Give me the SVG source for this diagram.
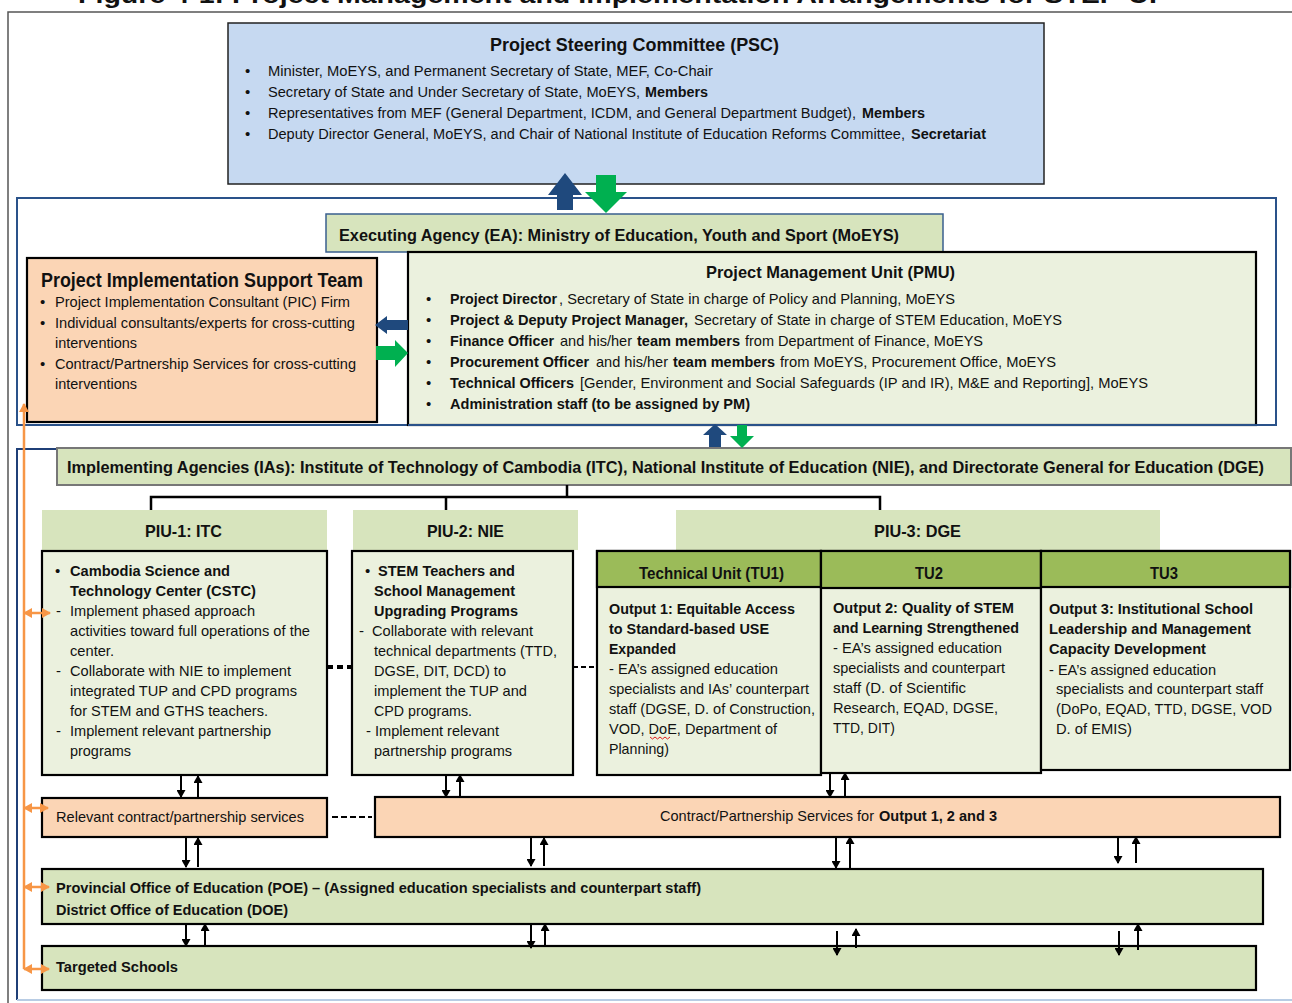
<svg xmlns="http://www.w3.org/2000/svg" width="1292" height="1003" viewBox="0 0 1292 1003">
<defs>
<style>
text{font-family:'Liberation Sans Narrow','Arial Narrow','Liberation Sans',Arial,sans-serif;fill:#111;font-size:15px}
.b{font-weight:bold}
.h{font-weight:bold;font-size:17px}
.ps{font-size:14px}
.lg{fill:#d7e4bd}
.pg{fill:#ebf1de}
.or{fill:#fbd5b5}
.bx{stroke:#000;stroke-width:2.2}
.ar{stroke:#000;stroke-width:2;fill:none;marker-end:url(#ah)}
.og{stroke:#f79646;stroke-width:2.5;fill:none}
.od{stroke:#f79646;stroke-width:2.5;fill:none;marker-start:url(#oh);marker-end:url(#oh)}
.blue{fill:#1f497d}
.green{fill:#00b050}
</style>
<marker id="ah" markerUnits="userSpaceOnUse" markerWidth="8" markerHeight="9" refX="7" refY="4.5" orient="auto"><path d="M0,0 L8,4.5 L0,9 z" fill="#000"/></marker>
<marker id="oh" markerUnits="userSpaceOnUse" markerWidth="9" markerHeight="10" refX="8" refY="5" orient="auto-start-reverse"><path d="M0,0 L9,5 L0,10 z" fill="#f79646"/></marker>
</defs>
<rect width="1292" height="1003" fill="#fff"/>
<text class="b" x="78" y="3" style="font-family:'Liberation Sans',Arial,sans-serif;font-size:24px" textLength="1090" lengthAdjust="spacingAndGlyphs">Figure 4-1: Project Management and Implementation Arrangements for STEP-UP</text>
<path d="M8,1003 V12 H1292" stroke="#555" stroke-width="1.5" fill="none"/>

<g id="psc">
<rect x="228" y="23" width="816" height="161" fill="#c6d9f1" stroke="#222" stroke-width="1.5"/>
<text class="b" x="490" y="51" style="font-size:19px" textLength="289" lengthAdjust="spacingAndGlyphs">Project Steering Committee (PSC)</text>
<text x="245" y="76">•</text><text x="245" y="97">•</text><text x="245" y="118">•</text><text x="245" y="139">•</text>
<text class="ps" x="268" y="76" textLength="445" lengthAdjust="spacingAndGlyphs">Minister, MoEYS, and Permanent Secretary of State, MEF, Co-Chair</text>
<text class="ps" x="268" y="97" textLength="372" lengthAdjust="spacingAndGlyphs">Secretary of State and Under Secretary of State, MoEYS,</text>
<text class="b ps" x="645" y="97" textLength="63" lengthAdjust="spacingAndGlyphs">Members</text>
<text class="ps" x="268" y="118" textLength="588" lengthAdjust="spacingAndGlyphs">Representatives from MEF (General Department, ICDM, and General Department Budget),</text>
<text class="b ps" x="862" y="118" textLength="63" lengthAdjust="spacingAndGlyphs">Members</text>
<text class="ps" x="268" y="139" textLength="637" lengthAdjust="spacingAndGlyphs">Deputy Director General, MoEYS, and Chair of National Institute of Education Reforms Committee,</text>
<text class="b ps" x="911" y="139" textLength="75" lengthAdjust="spacingAndGlyphs">Secretariat</text>
</g>

<rect x="17" y="198" width="1259" height="227" fill="none" stroke="#2a528a" stroke-width="2"/>

<g id="ea">
<rect x="326" y="214" width="617" height="38" class="lg" stroke="#3a5f8f" stroke-width="1.5"/>
<text class="h" x="339" y="241" textLength="560" lengthAdjust="spacingAndGlyphs">Executing Agency (EA): Ministry of Education, Youth and Sport (MoEYS)</text>
</g>

<g id="pist">
<rect x="27" y="258" width="350" height="164" class="or bx"/>
<text class="b" x="41" y="287" style="font-size:21px" textLength="322" lengthAdjust="spacingAndGlyphs">Project Implementation Support Team</text>
<text x="40" y="307">•</text><text x="40" y="328">•</text><text x="40" y="369">•</text>
<text x="55" y="307" textLength="295" lengthAdjust="spacingAndGlyphs">Project Implementation Consultant (PIC) Firm</text>
<text x="55" y="328" textLength="300" lengthAdjust="spacingAndGlyphs">Individual consultants/experts for cross-cutting</text>
<text x="55" y="348" textLength="82" lengthAdjust="spacingAndGlyphs">interventions</text>
<text x="55" y="369" textLength="301" lengthAdjust="spacingAndGlyphs">Contract/Partnership Services for cross-cutting</text>
<text x="55" y="389" textLength="82" lengthAdjust="spacingAndGlyphs">interventions</text>
</g>

<g id="pmu">
<rect x="408" y="252" width="848" height="173" class="pg bx"/>
<text class="h" x="706" y="278" textLength="249" lengthAdjust="spacingAndGlyphs">Project Management Unit (PMU)</text>
<text x="426" y="304">•</text><text x="426" y="325">•</text><text x="426" y="346">•</text><text x="426" y="367">•</text><text x="426" y="388">•</text><text x="426" y="409">•</text>
<text class="b" x="450" y="304" textLength="107" lengthAdjust="spacingAndGlyphs">Project Director</text>
<text x="559" y="304" textLength="396" lengthAdjust="spacingAndGlyphs">, Secretary of State in charge of Policy and Planning, MoEYS</text>
<text class="b" x="450" y="325" textLength="238" lengthAdjust="spacingAndGlyphs">Project &amp; Deputy Project Manager,</text>
<text x="694" y="325" textLength="368" lengthAdjust="spacingAndGlyphs">Secretary of State in charge of STEM Education, MoEYS</text>
<text class="b" x="450" y="346" textLength="104" lengthAdjust="spacingAndGlyphs">Finance Officer</text>
<text x="560" y="346" textLength="72" lengthAdjust="spacingAndGlyphs">and his/her</text>
<text class="b" x="637" y="346" textLength="103" lengthAdjust="spacingAndGlyphs">team members</text>
<text x="745" y="346" textLength="238" lengthAdjust="spacingAndGlyphs">from Department of Finance, MoEYS</text>
<text class="b" x="450" y="367" textLength="139" lengthAdjust="spacingAndGlyphs">Procurement Officer</text>
<text x="596" y="367" textLength="72" lengthAdjust="spacingAndGlyphs">and his/her</text>
<text class="b" x="673" y="367" textLength="102" lengthAdjust="spacingAndGlyphs">team members</text>
<text x="780" y="367" textLength="276" lengthAdjust="spacingAndGlyphs">from MoEYS, Procurement Office, MoEYS</text>
<text class="b" x="450" y="388" textLength="124" lengthAdjust="spacingAndGlyphs">Technical Officers</text>
<text x="580" y="388" textLength="568" lengthAdjust="spacingAndGlyphs">[Gender, Environment and Social Safeguards (IP and IR), M&amp;E and Reporting], MoEYS</text>
<text class="b" x="450" y="409" textLength="300" lengthAdjust="spacingAndGlyphs">Administration staff (to be assigned by PM)</text>
</g>
<line x1="408" y1="425" x2="1276" y2="425" stroke="#2a528a" stroke-width="2"/>

<path d="M17,1000 V449 H60" stroke="#1f3f77" stroke-width="2" fill="none"/>
<line x1="17" y1="1000" x2="1292" y2="1000" stroke="#b8cce4" stroke-width="2"/>

<g id="ia">
<rect x="57" y="448" width="1234" height="37" class="lg" stroke="#777" stroke-width="2"/>
<text class="b" x="67" y="473" style="font-size:16.2px" textLength="1197" lengthAdjust="spacingAndGlyphs">Implementing Agencies (IAs): Institute of Technology of Cambodia (ITC), National Institute of Education (NIE), and Directorate General for Education (DGE)</text>
</g>

<g id="piu1">
<rect x="42" y="510" width="285" height="40" class="lg"/>
<text class="h" x="145" y="537" textLength="77" lengthAdjust="spacingAndGlyphs">PIU-1: ITC</text>
<rect x="42" y="551" width="285" height="224" class="pg bx"/>
<text x="55" y="576">•</text>
<text class="b" x="70" y="576" textLength="160" lengthAdjust="spacingAndGlyphs">Cambodia Science and</text>
<text class="b" x="70" y="596" textLength="186" lengthAdjust="spacingAndGlyphs">Technology Center (CSTC)</text>
<text x="56" y="616">-</text><text x="56" y="676">-</text><text x="56" y="736">-</text>
<text x="70" y="616" textLength="185" lengthAdjust="spacingAndGlyphs">Implement phased approach</text>
<text x="70" y="636" textLength="240" lengthAdjust="spacingAndGlyphs">activities toward full operations of the</text>
<text x="70" y="656" textLength="44" lengthAdjust="spacingAndGlyphs">center.</text>
<text x="70" y="676" textLength="221" lengthAdjust="spacingAndGlyphs">Collaborate with NIE to implement</text>
<text x="70" y="696" textLength="227" lengthAdjust="spacingAndGlyphs">integrated TUP and CPD programs</text>
<text x="70" y="716" textLength="198" lengthAdjust="spacingAndGlyphs">for STEM and GTHS teachers.</text>
<text x="70" y="736" textLength="201" lengthAdjust="spacingAndGlyphs">Implement relevant partnership</text>
<text x="70" y="756" textLength="61" lengthAdjust="spacingAndGlyphs">programs</text>
</g>

<g id="piu2">
<rect x="353" y="510" width="225" height="40" class="lg"/>
<text class="h" x="427" y="537" textLength="77" lengthAdjust="spacingAndGlyphs">PIU-2: NIE</text>
<rect x="352" y="551" width="221" height="224" class="pg bx"/>
<text x="365" y="576">•</text>
<text class="b" x="378" y="576" textLength="137" lengthAdjust="spacingAndGlyphs">STEM Teachers and</text>
<text class="b" x="374" y="596" textLength="141" lengthAdjust="spacingAndGlyphs">School Management</text>
<text class="b" x="374" y="616" textLength="144" lengthAdjust="spacingAndGlyphs">Upgrading Programs</text>
<text x="359" y="636">-</text>
<text x="372" y="636" textLength="161" lengthAdjust="spacingAndGlyphs">Collaborate with relevant</text>
<text x="374" y="656" textLength="183" lengthAdjust="spacingAndGlyphs">technical departments (TTD,</text>
<text x="374" y="676" textLength="132" lengthAdjust="spacingAndGlyphs">DGSE, DIT, DCD) to</text>
<text x="374" y="696" textLength="153" lengthAdjust="spacingAndGlyphs">implement the TUP and</text>
<text x="374" y="716" textLength="98" lengthAdjust="spacingAndGlyphs">CPD programs.</text>
<text x="366" y="736">-</text>
<text x="375" y="736" textLength="124" lengthAdjust="spacingAndGlyphs">Implement relevant</text>
<text x="374" y="756" textLength="138" lengthAdjust="spacingAndGlyphs">partnership programs</text>
</g>

<g id="piu3">
<rect x="676" y="510" width="484" height="41" class="lg"/>
<text class="h" x="874" y="537" textLength="87" lengthAdjust="spacingAndGlyphs">PIU-3: DGE</text>
</g>

<g id="tu1">
<rect x="597" y="551" width="224" height="224" class="pg bx"/>
<rect x="597" y="551" width="224" height="36" fill="#9bbb59" class="bx"/>
<text class="b" x="639" y="579" style="font-size:16px" textLength="145" lengthAdjust="spacingAndGlyphs">Technical Unit (TU1)</text>
<text class="b" x="609" y="614" textLength="186" lengthAdjust="spacingAndGlyphs">Output 1: Equitable Access</text>
<text class="b" x="609" y="634" textLength="160" lengthAdjust="spacingAndGlyphs">to Standard-based  USE</text>
<text class="b" x="609" y="654" textLength="67" lengthAdjust="spacingAndGlyphs">Expanded</text>
<text x="609" y="674" textLength="169" lengthAdjust="spacingAndGlyphs">- EA’s assigned education</text>
<text x="609" y="694" textLength="200" lengthAdjust="spacingAndGlyphs">specialists and IAs’ counterpart</text>
<text x="609" y="714" textLength="206" lengthAdjust="spacingAndGlyphs">staff (DGSE, D. of Construction,</text>
<text x="609" y="734" textLength="168" lengthAdjust="spacingAndGlyphs">VOD, DoE, Department of</text>
<text x="609" y="754" textLength="60" lengthAdjust="spacingAndGlyphs">Planning)</text>
<path d="M650,737 l2.5,2 l2.5,-2 l2.5,2 l2.5,-2 l2.5,2 l2.5,-2 l2.5,2 l2.5,-2" stroke="#e02020" stroke-width="1" fill="none"/>
</g>

<g id="tu2">
<rect x="821" y="551" width="220" height="222" class="pg bx"/>
<rect x="821" y="551" width="220" height="37" fill="#9bbb59" class="bx"/>
<text class="b" x="915" y="579" style="font-size:16px" textLength="28" lengthAdjust="spacingAndGlyphs">TU2</text>
<text class="b" x="833" y="613" textLength="181" lengthAdjust="spacingAndGlyphs">Output 2: Quality of STEM</text>
<text class="b" x="833" y="633" textLength="186" lengthAdjust="spacingAndGlyphs">and Learning  Strengthened</text>
<text x="833" y="653" textLength="169" lengthAdjust="spacingAndGlyphs">- EA’s assigned education</text>
<text x="833" y="673" textLength="172" lengthAdjust="spacingAndGlyphs">specialists and counterpart</text>
<text x="833" y="693" textLength="133" lengthAdjust="spacingAndGlyphs">staff (D. of Scientific</text>
<text x="833" y="713" textLength="165" lengthAdjust="spacingAndGlyphs">Research,  EQAD, DGSE,</text>
<text x="833" y="733" textLength="62" lengthAdjust="spacingAndGlyphs">TTD,  DIT)</text>
</g>

<g id="tu3">
<rect x="1041" y="551" width="249" height="219" class="pg bx"/>
<rect x="1041" y="551" width="249" height="36" fill="#9bbb59" class="bx"/>
<text class="b" x="1150" y="579" style="font-size:16px" textLength="28" lengthAdjust="spacingAndGlyphs">TU3</text>
<text class="b" x="1049" y="614" textLength="204" lengthAdjust="spacingAndGlyphs">Output 3: Institutional School</text>
<text class="b" x="1049" y="634" textLength="202" lengthAdjust="spacingAndGlyphs">Leadership and Management</text>
<text class="b" x="1049" y="654" textLength="157" lengthAdjust="spacingAndGlyphs">Capacity Development</text>
<text x="1049" y="675" textLength="167" lengthAdjust="spacingAndGlyphs">- EA’s assigned education</text>
<text x="1056" y="694" textLength="207" lengthAdjust="spacingAndGlyphs">specialists and counterpart staff</text>
<text x="1056" y="714" textLength="216" lengthAdjust="spacingAndGlyphs">(DoPo, EQAD, TTD, DGSE, VOD</text>
<text x="1056" y="734" textLength="76" lengthAdjust="spacingAndGlyphs">D. of EMIS)</text>
</g>

<g id="relevant">
<rect x="42" y="798" width="285" height="39" class="or bx"/>
<text x="56" y="822" textLength="248" lengthAdjust="spacingAndGlyphs">Relevant contract/partnership services</text>
</g>

<g id="contract">
<rect x="375" y="797" width="905" height="40" class="or bx"/>
<text x="660" y="821" textLength="214" lengthAdjust="spacingAndGlyphs">Contract/Partnership Services for</text>
<text class="b" x="879" y="821" textLength="118" lengthAdjust="spacingAndGlyphs">Output 1, 2 and 3</text>
</g>

<g id="poe">
<rect x="42" y="869" width="1221" height="55" class="lg bx"/>
<text class="b" x="56" y="893" textLength="645" lengthAdjust="spacingAndGlyphs">Provincial Office of Education (POE) – (Assigned education specialists and counterpart staff)</text>
<text class="b" x="56" y="915" textLength="232" lengthAdjust="spacingAndGlyphs">District Office of Education (DOE)</text>
</g>

<g id="schools">
<rect x="42" y="946" width="1214" height="44" class="lg bx"/>
<text class="b" x="56" y="972" textLength="122" lengthAdjust="spacingAndGlyphs">Targeted Schools</text>
</g>

<g id="connectors">
<polygon class="blue" points="565,173 582,195 573,195 573,210 557,210 557,195 548,195"/>
<polygon class="green" points="596,175 616,175 616,192 627,192 606,213 585,192 596,192"/>
<polygon class="blue" points="375,325 387,316 387,320 408,320 408,330 387,330 387,334"/>
<polygon class="green" points="376,346 395,346 395,340 408,353 395,367 395,360 376,360"/>
<polygon class="blue" points="715,424 727,435 721,435 721,447 709,447 709,435 703,435"/>
<polygon class="green" points="737,425 747,425 747,436 754,436 742,448 730,436 737,436"/>

<path d="M567,485 V497 M151,510 V497 H880 V510 M446,497 V510" stroke="#000" stroke-width="2.5" fill="none"/>
<line x1="327" y1="667" x2="352" y2="667" stroke="#000" stroke-width="4" stroke-dasharray="6,4"/>
<line x1="573" y1="667" x2="597" y2="667" stroke="#000" stroke-width="2" stroke-dasharray="5,3"/>
<line x1="332" y1="817" x2="372" y2="817" stroke="#000" stroke-width="2" stroke-dasharray="6,3"/>

<line class="ar" x1="181" y1="775" x2="181" y2="797"/>
<line class="ar" x1="198" y1="797" x2="198" y2="776"/>
<line class="ar" x1="446" y1="775" x2="446" y2="797"/>
<line class="ar" x1="460" y1="797" x2="460" y2="775"/>
<line class="ar" x1="830" y1="773" x2="830" y2="797"/>
<line class="ar" x1="845" y1="797" x2="845" y2="773"/>

<line class="ar" x1="186" y1="837" x2="186" y2="867"/>
<line class="ar" x1="198" y1="867" x2="198" y2="838"/>
<line class="ar" x1="531" y1="838" x2="531" y2="866"/>
<line class="ar" x1="544" y1="866" x2="544" y2="838"/>
<line class="ar" x1="836" y1="837" x2="836" y2="868"/>
<line class="ar" x1="850" y1="868" x2="850" y2="837"/>
<line class="ar" x1="1118" y1="836" x2="1118" y2="863"/>
<line class="ar" x1="1136" y1="863" x2="1136" y2="837"/>

<line class="ar" x1="186" y1="924" x2="186" y2="946"/>
<line class="ar" x1="205" y1="946" x2="205" y2="924"/>
<line class="ar" x1="531" y1="925" x2="531" y2="948"/>
<line class="ar" x1="545" y1="946" x2="545" y2="924"/>
<line class="ar" x1="837" y1="931" x2="837" y2="955"/>
<line class="ar" x1="856" y1="948" x2="856" y2="929"/>
<line class="ar" x1="1119" y1="931" x2="1119" y2="955"/>
<line class="ar" x1="1138" y1="950" x2="1138" y2="924"/>

<path d="M24,969 V404" class="og" marker-end="url(#oh)"/>
<line class="od" x1="24" y1="613" x2="50" y2="613"/>
<line class="od" x1="24" y1="808" x2="48" y2="808"/>
<line class="od" x1="24" y1="887" x2="49" y2="887"/>
<line class="od" x1="24" y1="969" x2="49" y2="969"/>
</g>
</svg>
